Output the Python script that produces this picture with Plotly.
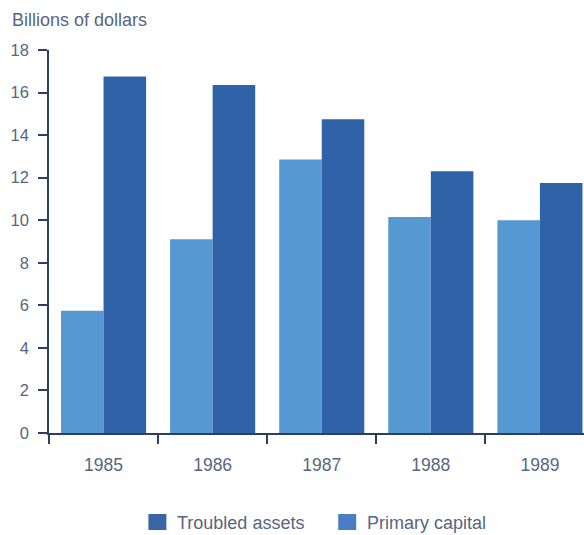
import plotly.graph_objects as go

# Annual figures, billions of dollars
years = ["1985", "1986", "1987", "1988", "1989"]
troubled_assets = [5.75, 9.1, 12.85, 10.15, 10.0]
primary_capital = [16.75, 16.35, 14.75, 12.3, 11.75]

series_names = ["Troubled assets", "Primary capital"]
bar_colors = ["#5699d2", "#2f62a6"]
key_colors = ["#3a66a6", "#4a7ec0"]

TEXT = "#57667f"
AXIS = "#2c3f5f"
FONT = "Liberation Sans, Arial, Helvetica, sans-serif"

fig = go.Figure()
for name, vals, col in zip(series_names, [troubled_assets, primary_capital], bar_colors):
    fig.add_trace(go.Bar(x=years, y=vals, name=name, marker=dict(color=col, line=dict(width=0)),
                         showlegend=False))

fig.update_layout(
    width=584, height=535,
    margin=dict(l=48.5, r=0, t=50, b=102),
    paper_bgcolor="white", plot_bgcolor="white",
    barmode="group", bargap=0.22, bargroupgap=0,
    font=dict(family=FONT, color=TEXT, size=16),
    xaxis=dict(range=[-0.5, 4.404], showline=True, linecolor=AXIS, linewidth=1.5,
               ticks="outside", tickson="boundaries", ticklen=9, tickcolor=AXIS, tickwidth=1.5,
               showgrid=False, ticklabelstandoff=15, tickfont=dict(size=17.5, color=TEXT)),
    yaxis=dict(range=[0, 18], dtick=2, showline=True, linecolor=AXIS, linewidth=1.5,
               ticks="outside", ticklen=9, tickcolor=AXIS, tickwidth=1.5,
               showgrid=False, zeroline=False, ticklabelstandoff=6,
               tickfont=dict(size=16.5, color=TEXT)),
)

fig.add_annotation(text="Billions of dollars", xref="paper", yref="paper",
                   x=(9 - 48.5) / 535.5, y=(433 - 20) / 383, xanchor="left", yanchor="middle",
                   showarrow=False, font=dict(size=18, color=TEXT))

# Key beneath the chart: colour square followed by the series name
key_left = [148, 338]
for name, col, left in zip(series_names, key_colors, key_left):
    fig.add_shape(type="rect", xref="paper", yref="paper",
                  x0=(left - 48.5) / 535.5, x1=(left + 18 - 48.5) / 535.5,
                  y0=(433 - 530) / 383, y1=(433 - 514) / 383,
                  fillcolor=col, line=dict(width=0))
    fig.add_annotation(text=name, xref="paper", yref="paper",
                       x=(left + 27 - 48.5) / 535.5, y=(433 - 523) / 383,
                       xanchor="left", yanchor="middle", showarrow=False,
                       font=dict(size=18, color=TEXT))

fig.write_html("out.html")
